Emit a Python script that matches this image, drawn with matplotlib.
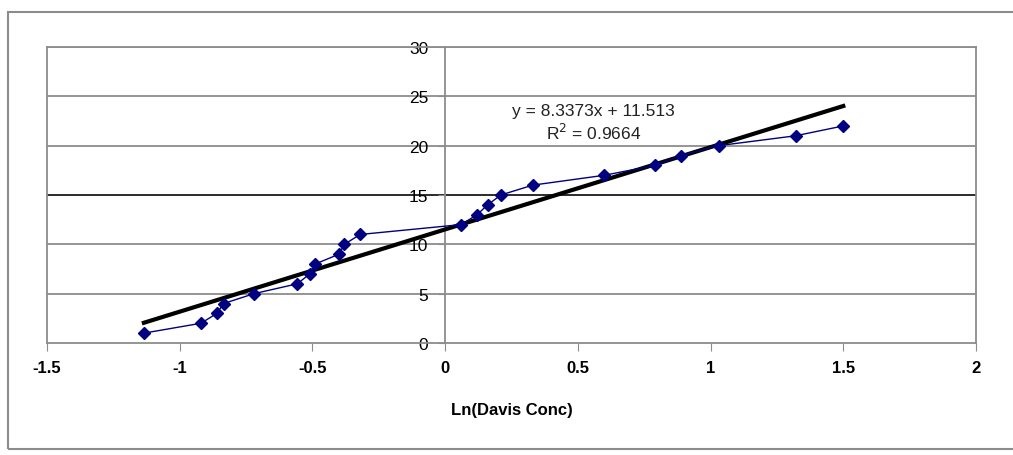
import matplotlib
matplotlib.use("Agg")
import matplotlib.pyplot as plt
from matplotlib.patches import Rectangle

plt.rcParams["font.family"] = ["Liberation Sans", "DejaVu Sans"]
plt.rcParams["axes.unicode_minus"] = False

# ── data ────────────────────────────────────────────────────────────
ln_conc = [-1.135, -0.92, -0.86, -0.835, -0.72, -0.557, -0.51, -0.49, -0.40,
           -0.38, -0.32, 0.06, 0.12, 0.16, 0.21, 0.33, 0.60, 0.79, 0.89,
           1.03, 1.32, 1.50]
rank = [1, 2, 3, 4, 5, 6, 7, 8, 9, 10, 11, 12, 13, 14, 15, 16, 17, 18, 19,
        20, 21, 22]
slope = 8.3373
intercept = 11.513
r_squared = 0.9664

x_ticks = [-1.5, -1, -0.5, 0, 0.5, 1, 1.5, 2]
x_tick_labels = ["-1.5", "-1", "-0.5", "0", "0.5", "1", "1.5", "2"]
y_ticks = [0, 5, 10, 15, 20, 25, 30]

GRID = "#8c8c8c"

fig = plt.figure(figsize=(10.13, 4.56), dpi=100)
ax = fig.add_axes([47 / 1013, 1 - 344 / 456, 929 / 1013, 296 / 456])

# outer chart border
fig.patches.append(Rectangle((8 / 1013, 1 - 450 / 456), 1.0, 437 / 456,
                             transform=fig.transFigure, fill=False,
                             edgecolor=GRID, linewidth=1.5))

ax.set_xlim(-1.5, 2)
ax.set_ylim(0, 30)

# horizontal gridlines (15 is drawn darker, as in the original)
for yv in y_ticks[1:]:
    ax.axhline(yv, color="#1a1a1a" if yv == 15 else GRID,
               linewidth=1.3, zorder=1)

# data series
ax.plot(ln_conc, rank, color="#000080", linewidth=1, marker="D",
        markersize=6, markerfacecolor="#000080", zorder=4)

# linear trendline across the data range
x0, x1 = ln_conc[0], ln_conc[-1]
ax.plot([x0, x1], [slope * x0 + intercept, slope * x1 + intercept],
        color="black", linewidth=3, zorder=3)

ax.text(0.56, 23.6, f"y = {slope}x + {intercept}", ha="center",
        va="center", fontsize=12.5, color="#222222")
ax.text(0.56, 21.4, f"R$^2$ = {r_squared}", ha="center", va="center",
        fontsize=12.5, color="#222222")

# axes: y axis crosses at x = 0
for side in ["top", "right", "bottom", "left"]:
    ax.spines[side].set_color(GRID)
    ax.spines[side].set_linewidth(1.3)
ax.spines["left"].set_position(("data", 0))
ax.axvline(-1.5, color=GRID, linewidth=1.3, clip_on=False)

ax.set_xticks(x_ticks)
ax.set_xticklabels(x_tick_labels, fontsize=12, fontweight="bold")
ax.set_yticks(y_ticks)
ax.set_yticklabels([str(v) for v in y_ticks], fontsize=12.5)
ax.tick_params(axis="x", direction="out", length=6, color=GRID, pad=6)
ax.tick_params(axis="y", direction="out", length=5, color=GRID, pad=7)

ax.set_xlabel("Ln(Davis Conc)", fontsize=12, fontweight="bold", labelpad=20)

fig.savefig("out.png", dpi=100)
